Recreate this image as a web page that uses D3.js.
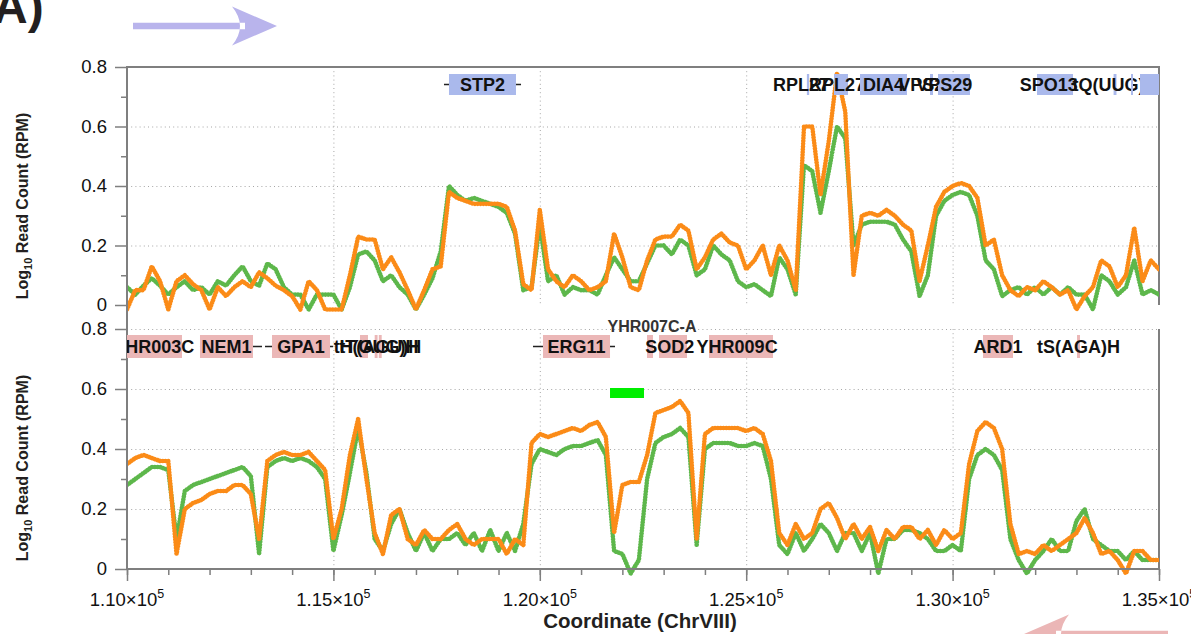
<!DOCTYPE html>
<html><head><meta charset="utf-8">
<script src="https://cdn.jsdelivr.net/npm/d3@7"></script>
<style>
html,body{margin:0;padding:0;background:#fff;}
svg{display:block;font-family:"Liberation Sans",Arial,Helvetica,sans-serif;}
</style></head><body>
<svg id="chart" width="1191" height="634"></svg>
<script>
// Read-count profiles, one value per 200 bp bin starting at 110,000 on ChrVIII.
// Empty bins are stored as -0.015 so they sit just under the zero line.
const binStart = 110000;
const binSize = 200;

// Watson strand, replicate 1 (orange) and replicate 2 (green)
const watsonRep1 = [-0.015,0.05,0.05,0.13,0.08,-0.015,0.08,0.10,0.07,0.05,-0.015,0.06,0.03,0.06,0.08,0.06,0.11,0.09,0.065,0.05,
  0.03,-0.015,0.08,0.05,-0.015,-0.015,-0.015,0.10,0.23,0.22,0.22,0.12,0.16,0.11,0.05,-0.015,0.05,0.12,0.13,0.38,
  0.36,0.35,0.34,0.34,0.34,0.34,0.33,0.25,0.07,0.05,0.32,0.12,0.08,0.06,0.10,0.08,0.05,0.06,0.08,0.24,
  0.16,0.06,0.05,0.15,0.22,0.23,0.23,0.27,0.25,0.12,0.16,0.22,0.24,0.21,0.20,0.12,0.15,0.20,0.10,0.20,
  0.15,0.05,0.60,0.60,0.37,0.55,0.78,0.65,0.10,0.30,0.31,0.30,0.32,0.30,0.27,0.25,0.08,0.20,0.33,0.38,
  0.40,0.41,0.40,0.36,0.20,0.22,0.10,0.05,0.03,0.06,0.05,0.08,0.06,0.035,0.05,-0.015,0.03,0.06,0.15,0.13,
  0.06,0.10,0.26,0.08,0.15,0.12];
const watsonRep2 = [0.06,0.035,0.065,0.09,0.065,0.035,0.06,0.08,0.05,0.06,0.035,0.08,0.065,0.10,0.13,0.08,0.065,0.14,0.12,0.06,
  0.035,0.035,-0.015,0.035,0.035,0.035,-0.015,0.06,0.17,0.18,0.15,0.08,0.10,0.06,0.035,-0.015,0.035,0.09,0.18,0.40,
  0.37,0.35,0.36,0.35,0.34,0.33,0.31,0.24,0.05,0.06,0.27,0.08,0.10,0.035,0.06,0.05,0.05,0.035,0.10,0.16,
  0.12,0.08,0.08,0.14,0.20,0.20,0.17,0.22,0.20,0.10,0.12,0.20,0.17,0.15,0.08,0.06,0.07,0.05,0.03,0.16,
  0.12,0.035,0.47,0.45,0.31,0.45,0.60,0.56,0.20,0.27,0.28,0.28,0.28,0.27,0.22,0.18,0.03,0.10,0.30,0.35,
  0.37,0.38,0.37,0.30,0.15,0.12,0.03,0.05,0.06,0.035,0.06,0.035,0.06,0.035,0.06,0.035,0.035,-0.015,0.10,0.08,
  0.035,0.06,0.15,0.035,0.05,0.035];

// Crick strand, replicate 1 (orange) and replicate 2 (green)
const crickRep1 = [0.35,0.37,0.38,0.37,0.36,0.36,0.05,0.20,0.22,0.23,0.25,0.26,0.26,0.28,0.28,0.25,0.10,0.36,0.38,0.39,
  0.38,0.38,0.39,0.36,0.33,0.10,0.20,0.38,0.50,0.30,0.12,0.05,0.18,0.20,0.10,0.08,0.13,0.10,0.10,0.13,
  0.15,0.10,0.08,0.10,0.10,0.10,0.05,0.10,0.08,0.42,0.45,0.44,0.45,0.46,0.47,0.46,0.48,0.49,0.44,0.12,
  0.28,0.29,0.29,0.38,0.52,0.53,0.54,0.56,0.52,0.10,0.45,0.47,0.47,0.47,0.47,0.46,0.47,0.45,0.36,0.12,
  0.08,0.15,0.10,0.12,0.20,0.22,0.17,0.10,0.15,0.10,0.14,0.06,0.13,0.10,0.14,0.14,0.10,0.13,0.08,0.13,
  0.10,0.12,0.35,0.46,0.49,0.47,0.40,0.15,0.05,0.06,0.05,0.08,0.06,0.08,0.10,0.12,0.17,0.12,0.05,0.06,
  0.03,-0.015,0.06,0.06,0.03,0.03];
const crickRep2 = [0.28,0.30,0.32,0.34,0.34,0.33,0.10,0.26,0.28,0.29,0.30,0.31,0.32,0.33,0.34,0.31,0.05,0.34,0.36,0.37,
  0.36,0.37,0.36,0.34,0.30,0.06,0.18,0.32,0.47,0.32,0.10,0.06,0.15,0.20,0.12,0.06,0.12,0.06,0.10,0.10,
  0.12,0.08,0.12,0.06,0.13,0.06,0.12,0.06,0.15,0.35,0.40,0.39,0.38,0.40,0.41,0.41,0.42,0.43,0.38,0.06,
  0.05,-0.015,0.03,0.30,0.42,0.44,0.45,0.47,0.44,0.08,0.40,0.42,0.42,0.42,0.41,0.41,0.42,0.41,0.30,0.08,
  0.05,0.12,0.06,0.10,0.15,0.12,0.06,0.12,0.12,0.06,0.12,-0.015,0.10,0.10,0.13,0.13,0.12,0.10,0.06,0.06,
  0.08,0.06,0.30,0.38,0.40,0.38,0.33,0.10,0.03,-0.015,0.03,0.06,0.10,0.06,0.06,0.16,0.20,0.10,0.08,0.06,
  0.06,0.03,0.06,0.03,0.03,0.03];

// Axis ticks
const xMinorTicks = d3.range(110000, 135001, 1000);
const xMajorTicks = [110000, 115000, 120000, 125000, 130000, 135000];
const yMinorTicks = [0.1, 0.3, 0.5, 0.7];
const yMajorTicks = [0, 0.2, 0.4, 0.6, 0.8];

// Gene annotation (CDS start/end, optional transcript extent, optional label anchor)
const watsonGenes = [
  {name: "STP2",  start: 117800, end: 119423, txStart: 117679, txEnd: 119545},
  {name: "RPL27", start: 126470, end: 126525, labelAt: 126330},
  {name: "RPL27", start: 127127, end: 127466, labelAt: 127200},
  {name: "DIA4",  start: 127757, end: 128895},
  {name: "VPS29", start: 129453, end: 129525, labelAt: 129360},
  {name: "VPS29", start: 129646, end: 130421, labelAt: 129800},
  {name: "SPO13", start: 132045, end: 132917, labelAt: 132330},
  {name: "tQ(UUG)H", start: 133900, end: 133970},
  {name: "",      start: 134322, end: 134370},
  {name: "MIP6",  start: 134540, end: 137000}
];
const crickGenes = [
  {name: "YHR003C", start: 108800, end: 111332, labelAt: 110650},
  {name: "NEM1",  start: 111768, end: 113052, txStart: 111768, txEnd: 113270},
  {name: "GPA1",  start: 113513, end: 114918, txStart: 113343, txEnd: 114990},
  {name: "",      start: 115644, end: 115838},
  {name: "tH(GUG)H", start: 116000, end: 116070},
  {name: "tT(AGU)H", start: 116100, end: 116170},
  {name: "ERG11", start: 120077, end: 121701, txStart: 119835, txEnd: 121822},
  {name: "",      start: 122597, end: 122742},
  {name: "SOD2",  start: 122888, end: 123566, labelAt: 123150},
  {name: "YHR009C", start: 124099, end: 125649, labelAt: 124780},
  {name: "ARD1",  start: 130736, end: 131463},
  {name: "tS(AGA)H", start: 133014, end: 133086}
];
const dubiousGenes = [
  {name: "YHR007C-A", start: 121701, end: 122524, labelAt: 122718}
];

const svg = d3.select("#chart");
const plotLeft = 127, plotRight = 1159;
const x = d3.scaleLinear().domain([110000, 135000]).range([plotLeft, plotRight]);

const panels = [
  {key: "watson", y: d3.scaleLinear().domain([0, 0.8]).range([305, 67]), rep1: watsonRep1, rep2: watsonRep2, solidTop: true},
  {key: "crick",  y: d3.scaleLinear().domain([0, 0.8]).range([569, 329]), rep1: crickRep1, rep2: crickRep2, solidTop: false}
];

const colRep1 = "#fb8b17";
const colRep2 = "#5db74b";
const axisGrey = "#7f7f7f";
const gridGrey = "#a6a6a6";

const defs = svg.append("defs");
panels.forEach(p => {
  const [y0, y1] = p.y.range();
  defs.append("clipPath").attr("id", "clip-" + p.key)
    .append("rect").attr("x", plotLeft).attr("y", y1 - 6)
    .attr("width", plotRight - plotLeft).attr("height", y0 - y1 + 16);
});

// "A)" panel letter
svg.append("text").attr("x", -7).attr("y", 23)
  .attr("font-size", 48).attr("font-weight", "bold").attr("fill", "#231f20")
  .text("A)");

// strand direction arrows
svg.append("path")
  .attr("d", "M133,22.7 H245 V29.3 H133 Z M277,26 L232,6.5 Q248,26 232,45.5 Z")
  .attr("fill", "#b9b4ec");
svg.append("path")
  .attr("d", "M1168,630.7 H1056 V637.3 H1168 Z M1024,634 L1069,614.5 Q1053,634 1069,653.5 Z")
  .attr("fill", "#ebb6b6");

panels.forEach(p => {
  const [y0, y1] = p.y.range();
  const g = svg.append("g");

  // dotted grid
  const grid = g.append("g").attr("stroke", gridGrey).attr("stroke-width", 1)
    .attr("stroke-dasharray", "1,3.2");
  const hGrid = p.solidTop ? [0.2, 0.4, 0.6] : [0.2, 0.4, 0.6, 0.8];
  hGrid.forEach(v => grid.append("line")
    .attr("x1", plotLeft).attr("x2", plotRight).attr("y1", p.y(v) + 0.5).attr("y2", p.y(v) + 0.5));
  xMajorTicks.slice(1, -1).forEach(v => grid.append("line")
    .attr("x1", x(v) + 0.5).attr("x2", x(v) + 0.5).attr("y1", y1).attr("y2", y0));

  // frame: right edge, and solid top on the upper panel
  g.append("line").attr("x1", plotRight).attr("x2", plotRight).attr("y1", y1).attr("y2", y0)
    .attr("stroke", axisGrey).attr("stroke-width", 2);
  if (p.solidTop) {
    g.append("line").attr("x1", plotLeft).attr("x2", plotRight + 1).attr("y1", y1).attr("y2", y1)
      .attr("stroke", axisGrey).attr("stroke-width", 2);
  }

  // y axis ticks and labels
  const yMinor = d3.axisLeft(p.y).tickValues(yMinorTicks).tickSize(6).tickFormat("");
  const yMajor = d3.axisLeft(p.y).tickValues(yMajorTicks).tickSize(12).tickPadding(8)
    .tickFormat(d => d === 0 ? "0" : d.toFixed(1));
  [yMinor, yMajor].forEach(ax => {
    const a = g.append("g").attr("transform", `translate(${plotLeft},0)`).call(ax);
    a.select(".domain").remove();
    a.selectAll(".tick line").attr("stroke", axisGrey).attr("stroke-width", 1.5);
    a.selectAll(".tick text").attr("font-size", 18.5).attr("fill", "#111")
      .attr("font-family", "'Liberation Sans', Arial, sans-serif");
  });

  // read-count traces, drawn as a chain of dots
  const traces = g.append("g").attr("clip-path", `url(#clip-${p.key})`);
  const line = d3.line()
    .x((d, i) => x(binStart + i * binSize))
    .y(d => p.y(d));
  [[p.rep2, colRep2], [p.rep1, colRep1]].forEach(([vals, col]) => {
    traces.append("path").datum(vals)
      .attr("d", line)
      .attr("fill", "none")
      .attr("stroke", col)
      .attr("stroke-width", 4.6)
      .attr("stroke-linecap", "round")
      .attr("stroke-linejoin", "round")
      .attr("stroke-dasharray", "0.01,2.8");
  });
});

// left axis line spanning both panels
svg.append("line").attr("x1", plotLeft).attr("x2", plotLeft).attr("y1", 66).attr("y2", 570)
  .attr("stroke", axisGrey).attr("stroke-width", 2);

// bottom x axis
const xBase = 569;
svg.append("line").attr("x1", plotLeft - 1).attr("x2", plotRight + 1).attr("y1", xBase).attr("y2", xBase)
  .attr("stroke", axisGrey).attr("stroke-width", 2);
const xAxisMinor = d3.axisBottom(x).tickValues(xMinorTicks).tickSize(6).tickFormat("");
const xAxisMajor = d3.axisBottom(x).tickValues(xMajorTicks).tickSize(12).tickFormat("");
[xAxisMinor, xAxisMajor].forEach(ax => {
  const a = svg.append("g").attr("transform", `translate(0,${xBase})`).call(ax);
  a.select(".domain").remove();
  a.selectAll(".tick line").attr("stroke", axisGrey).attr("stroke-width", 1.5);
});
const xl = svg.append("g").attr("font-size", 18.5).attr("fill", "#111").attr("text-anchor", "middle");
xMajorTicks.forEach(v => {
  const t = xl.append("text").attr("x", x(v)).attr("y", 606);
  t.append("tspan").text((v / 1e5).toFixed(2) + "×10");
  t.append("tspan").attr("dy", -8).attr("font-size", 12.5).text("5");
});

// axis titles
svg.append("text").attr("x", 640).attr("y", 628).attr("text-anchor", "middle")
  .attr("font-size", 20.5).attr("font-weight", "bold").attr("fill", "#231f20")
  .text("Coordinate (ChrVIII)");
[206, 468].forEach(cy => {
  const t = svg.append("text").attr("transform", `translate(28,${cy}) rotate(-90)`)
    .attr("text-anchor", "middle").attr("font-size", 16).attr("font-weight", "bold").attr("fill", "#231f20");
  t.append("tspan").text("Log");
  t.append("tspan").attr("font-size", 11).attr("dy", 4).text("10");
  t.append("tspan").attr("dy", -4).text(" Read Count (RPM)");
});

// gene tracks: each gene draws its line, box and name in turn
function drawGenes(genes, fill, yMid, h, clipId) {
  const track = svg.append("g").attr("clip-path", `url(#${clipId})`);
  genes.forEach(d => {
    const grp = track.append("g");
    if (d.txStart != null) {
      grp.append("line").attr("x1", x(d.txStart)).attr("x2", x(d.txEnd))
        .attr("y1", yMid).attr("y2", yMid).attr("stroke", "#222").attr("stroke-width", 1.3);
    }
    const x0 = x(d.start), x1 = x(d.end);
    grp.append("rect").attr("x", x0).attr("y", yMid - h / 2)
      .attr("width", Math.max(1.5, x1 - x0)).attr("height", h).attr("fill", fill);
    if (d.name) {
      const cx = x(d.labelAt != null ? d.labelAt : (d.start + d.end) / 2);
      grp.append("text").attr("x", cx).attr("y", yMid + 6.5).attr("text-anchor", "middle")
        .attr("font-size", 18).attr("font-weight", "bold").attr("fill", "#111").text(d.name);
    }
  });
}
defs.append("clipPath").attr("id", "clip-track")
  .append("rect").attr("x", plotLeft).attr("y", 0).attr("width", plotRight - plotLeft).attr("height", 634);
drawGenes(watsonGenes, "#aab9ec", 84.5, 21, "clip-track");
drawGenes(crickGenes, "#ebb7b7", 346.5, 23, "clip-track");

// dubious ORF track
const dub = svg.append("g");
dubiousGenes.forEach(d => {
  dub.append("rect").attr("x", x(d.start)).attr("y", 388).attr("width", x(d.end) - x(d.start)).attr("height", 10)
    .attr("fill", "#00ee00");
  dub.append("text").attr("x", x(d.labelAt)).attr("y", 332).attr("text-anchor", "middle")
    .attr("font-size", 16).attr("font-weight", "bold").attr("fill", "#333").text(d.name);
});
</script>
</body></html>
